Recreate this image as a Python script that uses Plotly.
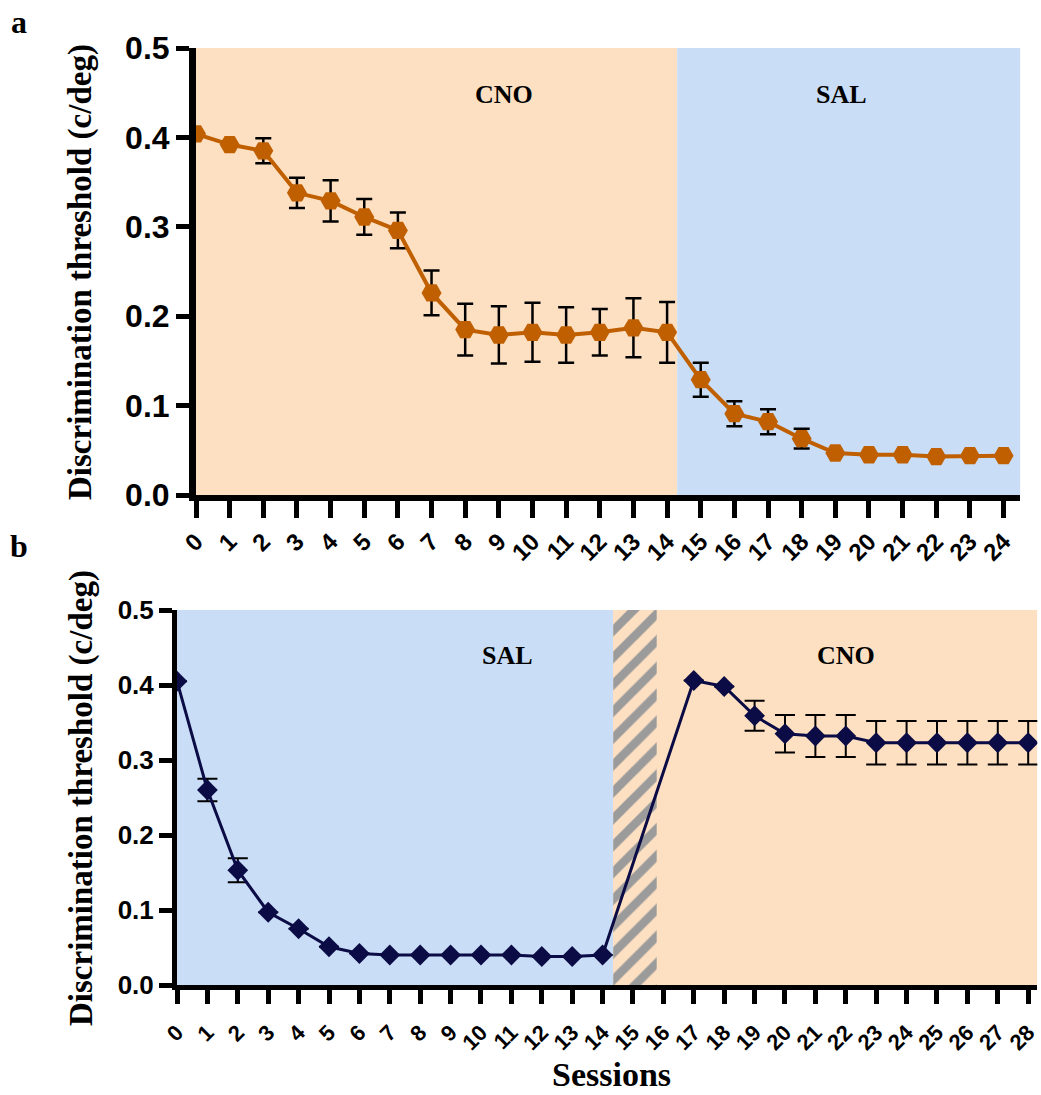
import plotly.graph_objects as go

# ---------------- data ----------------
# Panel a: CNO sessions 0-14, SAL sessions 15-24
sessions_a = list(range(25))
thresh_a = [0.404, 0.392, 0.385, 0.338, 0.329, 0.311, 0.296, 0.226, 0.185, 0.179,
            0.182, 0.179, 0.182, 0.187, 0.182, 0.129, 0.091, 0.082, 0.063, 0.047,
            0.045, 0.045, 0.043, 0.044, 0.044]
err_a = [0.0, 0.0, 0.014, 0.017, 0.023, 0.020, 0.020, 0.025, 0.029, 0.032,
         0.033, 0.031, 0.026, 0.033, 0.034, 0.019, 0.014, 0.014, 0.011, 0.0,
         0.0, 0.0, 0.0, 0.0, 0.0]

# Panel b: SAL sessions 0-14, (gap 15-16), CNO sessions 17-28
sessions_b = list(range(15)) + list(range(17, 29))
thresh_b = [0.405, 0.260, 0.153, 0.097, 0.075, 0.051, 0.042, 0.040, 0.040, 0.040,
            0.040, 0.040, 0.038, 0.038, 0.040,
            0.406, 0.398, 0.359, 0.335, 0.332, 0.332, 0.323, 0.323, 0.323, 0.323,
            0.323, 0.323]
err_b = [0.0, 0.015, 0.016, 0.0, 0.0, 0.0, 0.0, 0.0, 0.0, 0.0,
         0.0, 0.0, 0.0, 0.0, 0.0,
         0.0, 0.0, 0.020, 0.025, 0.028, 0.028, 0.029, 0.029, 0.029, 0.029,
         0.029, 0.029]

ticks_a = list(range(25))
ticks_b = list(range(29))
yticks = [0.0, 0.1, 0.2, 0.3, 0.4, 0.5]

# treatment periods (session boundaries)
a_cno = [0, 14.3]
a_sal = [14.3, 24.5]
b_sal = [0, 14.35]
b_hatch = [14.35, 15.78]
b_cno = [14.35, 28.3]

# ---------------- style ----------------
W, H = 1041, 1095
PEACH = "#FDDFC1"
BLUE = "#C9DEF6"
ORANGE = "#C05F00"
NAVY = "#0B0B45"
SERIF = "Liberation Serif"
SANS = "Liberation Sans"
YTITLE = "<b>Discrimination threshold (c/deg)</b>"


def px_x(p):
    return p / W


def px_y(p):
    return 1 - p / H


fig = go.Figure()

# hatched washout region (panel b)
fig.add_trace(go.Scatter(
    x=[b_hatch[0], b_hatch[1], b_hatch[1], b_hatch[0], b_hatch[0]],
    y=[0, 0, 0.5, 0.5, 0],
    xaxis="x2", yaxis="y2", mode="none", fill="toself",
    fillcolor=PEACH,
    fillpattern=dict(shape="/", fgcolor="#9B9B9B", bgcolor=PEACH, size=19, solidity=0.45),
    hoverinfo="skip", showlegend=False,
))

fig.add_trace(go.Scatter(
    x=sessions_a, y=thresh_a, xaxis="x", yaxis="y",
    mode="lines+markers",
    line=dict(color=ORANGE, width=4),
    marker=dict(symbol="hexagon2", size=20, color=ORANGE),
    error_y=dict(type="data", array=err_a, color="black", thickness=2.5, width=8),
    showlegend=False,
))

fig.add_trace(go.Scatter(
    x=sessions_b, y=thresh_b, xaxis="x2", yaxis="y2",
    mode="lines+markers",
    line=dict(color=NAVY, width=3),
    marker=dict(symbol="diamond", size=16, color=NAVY),
    error_y=dict(type="data", array=err_b, color="black", thickness=2, width=10),
    showlegend=False,
))

shapes = [
    dict(type="rect", xref="x", yref="y", x0=a_cno[0], x1=a_cno[1], y0=0, y1=0.5,
         fillcolor=PEACH, line=dict(width=0), layer="below"),
    dict(type="rect", xref="x", yref="y", x0=a_sal[0], x1=a_sal[1], y0=0, y1=0.5,
         fillcolor=BLUE, line=dict(width=0), layer="below"),
    dict(type="rect", xref="x2", yref="y2", x0=b_sal[0], x1=b_sal[1], y0=0, y1=0.5,
         fillcolor=BLUE, line=dict(width=0), layer="below"),
    dict(type="rect", xref="x2", yref="y2", x0=b_cno[0], x1=b_cno[1], y0=0, y1=0.5,
         fillcolor=PEACH, line=dict(width=0), layer="below"),
]

axis_common = dict(showgrid=False, zeroline=False, showline=True, linecolor="black",
                   ticks="outside", tickcolor="black", automargin=False)


def label(text, x, y, size, angle=0):
    return dict(text=text, x=px_x(x), y=px_y(y), xref="paper", yref="paper",
                showarrow=False, xanchor="center", yanchor="middle", textangle=angle,
                font=dict(family=SERIF, size=size, color="black"))


annotations = [
    label("<b>a</b>", 19, 22, 32),
    label("<b>b</b>", 19, 546, 32),
    label(YTITLE, 81, 272, 33, -90),
    label(YTITLE, 81, 798, 33, -90),
    label("<b>Sessions</b>", 611, 1074, 34),
    label("<b>CNO</b>", 504, 94, 26),
    label("<b>SAL</b>", 841, 94, 26),
    label("<b>SAL</b>", 507, 656, 26),
    label("<b>CNO</b>", 846, 655, 26),
]

fig.update_layout(
    width=W, height=H, template="none",
    margin=dict(l=0, r=0, t=0, b=0, pad=0),
    paper_bgcolor="white", plot_bgcolor="rgba(0,0,0,0)",
    shapes=shapes, annotations=annotations,
    xaxis=dict(**axis_common, domain=[px_x(196), px_x(1020.4)], range=[0, 24.5],
               anchor="y", tickvals=ticks_a, ticktext=[str(t) for t in ticks_a],
               tickangle=-45, linewidth=6, ticklen=17, tickwidth=5,
               tickfont=dict(family=SANS, size=24, color="black", weight="bold")),
    yaxis=dict(**axis_common, domain=[px_y(495), px_y(48)], range=[0, 0.5],
               anchor="x", tickvals=yticks, ticktext=[f"{v:.1f}" for v in yticks],
               linewidth=7, ticklen=13, tickwidth=5,
               tickfont=dict(family=SANS, size=32, color="black", weight="bold")),
    xaxis2=dict(**axis_common, domain=[px_x(177), px_x(1037.3)], range=[0, 28.3],
                anchor="y2", tickvals=ticks_b, ticktext=[str(t) for t in ticks_b],
                tickangle=-45, linewidth=5, ticklen=14, tickwidth=5,
                ticklabelstandoff=7,
                tickfont=dict(family=SANS, size=22, color="black", weight="bold")),
    yaxis2=dict(**axis_common, domain=[px_y(985), px_y(610)], range=[0, 0.5],
                anchor="x2", tickvals=yticks, ticktext=[f"{v:.1f}" for v in yticks],
                linewidth=5, ticklen=13, tickwidth=5,
                tickfont=dict(family=SANS, size=26, color="black", weight="bold")),
)

fig.write_html("out.html")
